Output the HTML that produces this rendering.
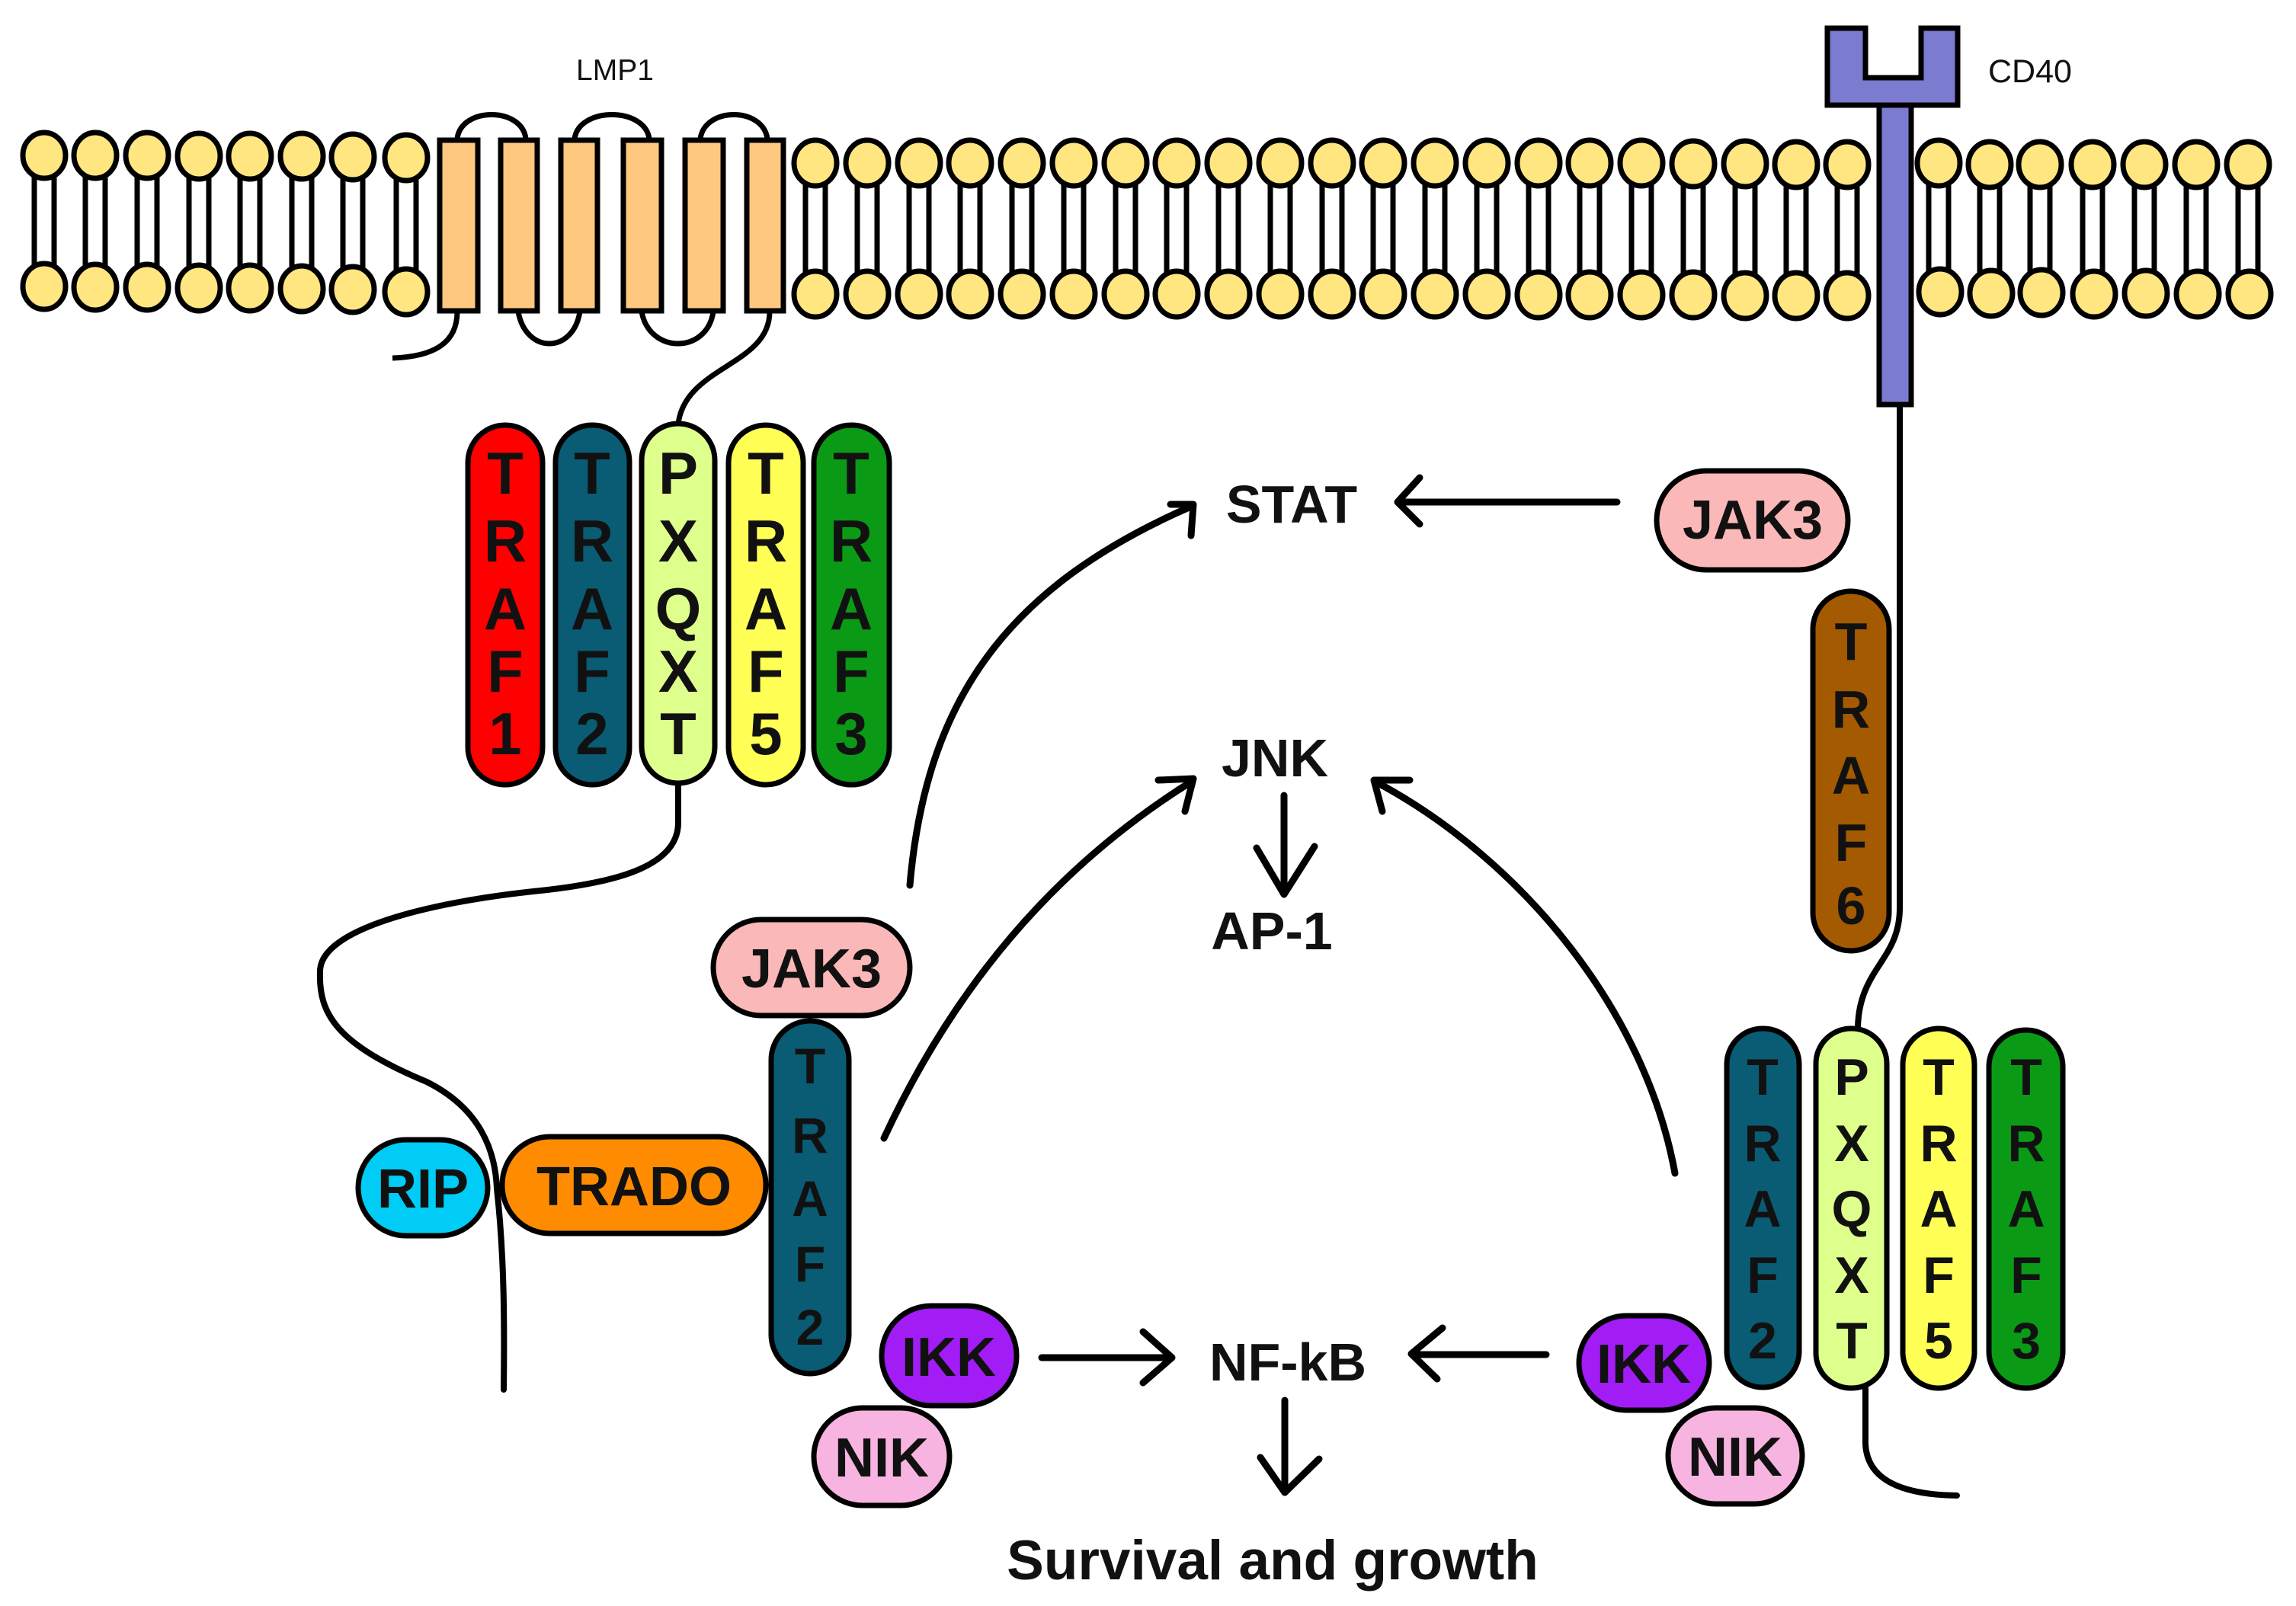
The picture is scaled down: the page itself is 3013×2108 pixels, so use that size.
<!DOCTYPE html>
<html><head><meta charset="utf-8"><style>
html,body{margin:0;padding:0;background:#fff;}
svg{display:block;}
text{font-family:"Liberation Sans",sans-serif;font-weight:bold;fill:#111;}
</style></head><body>
<svg width="3013" height="2108" viewBox="0 0 3013 2108" xmlns="http://www.w3.org/2000/svg">
<g stroke="#000" stroke-width="7">
<g fill="#fff">
<rect x="45" y="220" width="26" height="145"/><rect x="112" y="220" width="26" height="145"/><rect x="180" y="220" width="26" height="145"/><rect x="248" y="220" width="26" height="145"/><rect x="315" y="220" width="26" height="145"/><rect x="383" y="220" width="26" height="145"/><rect x="450" y="220" width="26" height="145"/><rect x="520" y="220" width="26" height="145"/>
<rect x="1057" y="230" width="26" height="145"/><rect x="1125" y="230" width="26" height="145"/><rect x="1193" y="230" width="26" height="145"/><rect x="1260" y="230" width="26" height="145"/><rect x="1328" y="230" width="26" height="145"/><rect x="1396" y="230" width="26" height="145"/><rect x="1464" y="230" width="26" height="145"/><rect x="1531" y="230" width="26" height="145"/><rect x="1599" y="230" width="26" height="145"/><rect x="1667" y="230" width="26" height="145"/><rect x="1735" y="230" width="26" height="145"/><rect x="1802" y="230" width="26" height="145"/><rect x="1870" y="230" width="26" height="145"/><rect x="1938" y="230" width="26" height="145"/><rect x="2006" y="230" width="26" height="145"/><rect x="2073" y="230" width="26" height="145"/><rect x="2141" y="230" width="26" height="145"/><rect x="2209" y="230" width="26" height="145"/><rect x="2277" y="230" width="26" height="145"/><rect x="2344" y="230" width="26" height="145"/><rect x="2411" y="230" width="26" height="145"/>
<rect x="2531" y="230" width="26" height="145"/><rect x="2598" y="230" width="26" height="145"/><rect x="2664" y="230" width="26" height="145"/><rect x="2733" y="230" width="26" height="145"/><rect x="2801" y="230" width="26" height="145"/><rect x="2869" y="230" width="26" height="145"/><rect x="2937" y="230" width="26" height="145"/>
</g>
<g fill="#ffe680">
<ellipse cx="58" cy="204" rx="28" ry="30"/><ellipse cx="125" cy="204" rx="28" ry="30"/><ellipse cx="193" cy="204" rx="28" ry="30"/><ellipse cx="261" cy="205" rx="28" ry="30"/><ellipse cx="328" cy="205" rx="28" ry="30"/><ellipse cx="396" cy="205" rx="28" ry="30"/><ellipse cx="463" cy="206" rx="28" ry="30"/><ellipse cx="533" cy="207" rx="28" ry="30"/>
<ellipse cx="58" cy="376" rx="28" ry="30"/><ellipse cx="125" cy="377" rx="28" ry="30"/><ellipse cx="193" cy="377" rx="28" ry="30"/><ellipse cx="261" cy="378" rx="28" ry="30"/><ellipse cx="328" cy="378" rx="28" ry="30"/><ellipse cx="396" cy="379" rx="28" ry="30"/><ellipse cx="463" cy="380" rx="28" ry="30"/><ellipse cx="533" cy="383" rx="28" ry="30"/>
<ellipse cx="1070" cy="214" rx="28" ry="30"/><ellipse cx="1138" cy="214" rx="28" ry="30"/><ellipse cx="1206" cy="214" rx="28" ry="30"/><ellipse cx="1273" cy="214" rx="28" ry="30"/><ellipse cx="1341" cy="214" rx="28" ry="30"/><ellipse cx="1409" cy="214" rx="28" ry="30"/><ellipse cx="1477" cy="214" rx="28" ry="30"/><ellipse cx="1544" cy="214" rx="28" ry="30"/><ellipse cx="1612" cy="214" rx="28" ry="30"/><ellipse cx="1680" cy="214" rx="28" ry="30"/><ellipse cx="1748" cy="214" rx="28" ry="30"/><ellipse cx="1815" cy="214" rx="28" ry="30"/><ellipse cx="1883" cy="214" rx="28" ry="30"/><ellipse cx="1951" cy="214" rx="28" ry="30"/><ellipse cx="2019" cy="214" rx="28" ry="30"/><ellipse cx="2086" cy="214" rx="28" ry="30"/><ellipse cx="2154" cy="214" rx="28" ry="30"/><ellipse cx="2222" cy="215" rx="28" ry="30"/><ellipse cx="2290" cy="215" rx="28" ry="30"/><ellipse cx="2357" cy="216" rx="28" ry="30"/><ellipse cx="2424" cy="216" rx="28" ry="30"/>
<ellipse cx="2544" cy="214" rx="28" ry="30"/><ellipse cx="2611" cy="216" rx="28" ry="30"/><ellipse cx="2677" cy="216" rx="28" ry="30"/><ellipse cx="2746" cy="216" rx="28" ry="30"/><ellipse cx="2814" cy="216" rx="28" ry="30"/><ellipse cx="2882" cy="216" rx="28" ry="30"/><ellipse cx="2950" cy="216" rx="28" ry="30"/>
<ellipse cx="1070" cy="386" rx="28" ry="30"/><ellipse cx="1138" cy="386" rx="28" ry="30"/><ellipse cx="1206" cy="386" rx="28" ry="30"/><ellipse cx="1273" cy="386" rx="28" ry="30"/><ellipse cx="1341" cy="386" rx="28" ry="30"/><ellipse cx="1409" cy="386" rx="28" ry="30"/><ellipse cx="1477" cy="386" rx="28" ry="30"/><ellipse cx="1544" cy="386" rx="28" ry="30"/><ellipse cx="1612" cy="386" rx="28" ry="30"/><ellipse cx="1680" cy="386" rx="28" ry="30"/><ellipse cx="1748" cy="386" rx="28" ry="30"/><ellipse cx="1815" cy="386" rx="28" ry="30"/><ellipse cx="1883" cy="386" rx="28" ry="30"/><ellipse cx="1951" cy="386" rx="28" ry="30"/><ellipse cx="2019" cy="387" rx="28" ry="30"/><ellipse cx="2086" cy="387" rx="28" ry="30"/><ellipse cx="2154" cy="387" rx="28" ry="30"/><ellipse cx="2222" cy="387" rx="28" ry="30"/><ellipse cx="2290" cy="388" rx="28" ry="30"/><ellipse cx="2357" cy="388" rx="28" ry="30"/><ellipse cx="2424" cy="388" rx="28" ry="30"/>
<ellipse cx="2546" cy="383" rx="28" ry="30"/><ellipse cx="2613" cy="385" rx="28" ry="30"/><ellipse cx="2679" cy="384" rx="28" ry="30"/><ellipse cx="2748" cy="386" rx="28" ry="30"/><ellipse cx="2816" cy="385" rx="28" ry="30"/><ellipse cx="2884" cy="386" rx="28" ry="30"/><ellipse cx="2952" cy="386" rx="28" ry="30"/>
</g>
</g>

<g fill="none" stroke="#000" stroke-width="7">
<path d="M600,182 C605,140 685,140 690,182"/>
<path d="M754,182 C760,140 846,140 852,182"/>
<path d="M919,182 C925,140 1001,140 1007,182"/>
<path d="M680,409 C690,465 752,465 761,409"/>
<path d="M842,409 C852,465 928,465 936,409"/>
<path d="M600,409 C600,450 570,468 515,470"/>
<path d="M1010,409 C1010,480 900,480 890,556"/>
</g>
<g fill="#ffc880" stroke="#000" stroke-width="7">
<rect x="577" y="184" width="50" height="224"/><rect x="657" y="184" width="48" height="224"/><rect x="736" y="184" width="48" height="224"/><rect x="818" y="184" width="50" height="224"/><rect x="899" y="184" width="50" height="224"/><rect x="980" y="184" width="48" height="224"/>
</g>
<text x="807" y="105" font-size="39" style="font-weight:normal" text-anchor="middle">LMP1</text>

<g fill="#7b7bd0" stroke="#000" stroke-width="7">
<rect x="2466" y="138" width="42" height="393"/>
<path d="M2398,37 H2448 V102 H2521 V37 H2569 V138 H2398 Z"/>
</g>
<text x="2609" y="108" font-size="43" style="font-weight:normal">CD40</text>

<g fill="none" stroke="#000" stroke-width="8" stroke-linecap="round">
<path d="M2493,532 V1190 C2494,1260 2440,1270 2438,1348"/>
<path d="M2448,1822 V1895 C2450,1945 2500,1962 2568,1963"/>
<path d="M890,1030 V1080 C890,1140 800,1160 700,1170 C560,1185 420,1220 420,1275 C418,1330 440,1370 560,1420 C630,1455 650,1510 652,1560 C662,1650 662,1740 661,1824"/>
</g>

<g stroke="#000" stroke-width="7">
<rect x="614" y="558" width="98" height="472" rx="49" fill="#ff0000"/>
<rect x="729" y="558" width="97" height="472" rx="48" fill="#0a5b74"/>
<rect x="842" y="556" width="96" height="472" rx="48" fill="#dfff8c"/>
<rect x="956" y="558" width="98" height="472" rx="49" fill="#ffff55"/>
<rect x="1068" y="558" width="99" height="472" rx="49" fill="#0a9a16"/>
</g>
<g font-size="78" text-anchor="middle">
<text x="663" y="648">T</text><text x="663" y="737">R</text><text x="663" y="826">A</text><text x="663" y="908">F</text><text x="663" y="990">1</text>
<text x="777" y="648">T</text><text x="777" y="737">R</text><text x="777" y="826">A</text><text x="777" y="908">F</text><text x="777" y="990">2</text>
<text x="890" y="648">P</text><text x="890" y="737">X</text><text x="890" y="826">Q</text><text x="890" y="908">X</text><text x="890" y="990">T</text>
<text x="1005" y="648">T</text><text x="1005" y="737">R</text><text x="1005" y="826">A</text><text x="1005" y="908">F</text><text x="1005" y="990">5</text>
<text x="1117" y="648">T</text><text x="1117" y="737">R</text><text x="1117" y="826">A</text><text x="1117" y="908">F</text><text x="1117" y="990">3</text>
</g>

<g stroke="#000" stroke-width="7">
<rect x="470" y="1496" width="170" height="126" rx="63" fill="#00ccf5"/>
<rect x="659" y="1492" width="346" height="127" rx="63" fill="#ff8c00"/>
<rect x="1012" y="1340" width="102" height="463" rx="51" fill="#0a5b74"/>
<rect x="936" y="1207" width="258" height="126" rx="63" fill="#fbb8b8"/>
<rect x="1068" y="1848" width="178" height="128" rx="64" fill="#f8b4e0"/>
<rect x="1157" y="1714" width="177" height="131" rx="65" fill="#a11cf5"/>
</g>
<g font-size="72" text-anchor="middle">
<text x="555" y="1585">RIP</text>
<text x="832" y="1582">TRADO</text>
<text x="1065" y="1296">JAK3</text>
<text x="1157" y="1938">NIK</text>
<text x="1245" y="1806">IKK</text>
</g>
<g font-size="66" text-anchor="middle">
<text x="1063" y="1422">T</text><text x="1063" y="1513">R</text><text x="1063" y="1596">A</text><text x="1063" y="1682">F</text><text x="1063" y="1765">2</text>
</g>

<g stroke="#000" stroke-width="7">
<rect x="2174" y="618" width="251" height="130" rx="65" fill="#fbb8b8"/>
<rect x="2379" y="776" width="100" height="472" rx="50" fill="#a35a00"/>
<rect x="2266" y="1350" width="95" height="471" rx="47" fill="#0a5b74"/>
<rect x="2383" y="1350" width="93" height="472" rx="46" fill="#dfff8c"/>
<rect x="2497" y="1350" width="94" height="472" rx="47" fill="#ffff55"/>
<rect x="2610" y="1352" width="97" height="470" rx="48" fill="#0a9a16"/>
<rect x="2189" y="1848" width="176" height="126" rx="63" fill="#f8b4e0"/>
<rect x="2072" y="1727" width="171" height="124" rx="62" fill="#a11cf5"/>
</g>
<g font-size="72" text-anchor="middle">
<text x="2300" y="707">JAK3</text>
<text x="2277" y="1937">NIK</text>
<text x="2157" y="1815">IKK</text>
</g>
<g font-size="70" text-anchor="middle">
<text x="2429" y="866">T</text><text x="2429" y="955">R</text><text x="2429" y="1042">A</text><text x="2429" y="1130">F</text><text x="2429" y="1213">6</text>
</g>
<g font-size="68" text-anchor="middle">
<text x="2313" y="1437">T</text><text x="2313" y="1524">R</text><text x="2313" y="1610">A</text><text x="2313" y="1697">F</text><text x="2313" y="1783">2</text>
<text x="2430" y="1437">P</text><text x="2430" y="1524">X</text><text x="2430" y="1610">Q</text><text x="2430" y="1697">X</text><text x="2430" y="1783">T</text>
<text x="2544" y="1437">T</text><text x="2544" y="1524">R</text><text x="2544" y="1610">A</text><text x="2544" y="1697">F</text><text x="2544" y="1783">5</text>
<text x="2659" y="1437">T</text><text x="2659" y="1524">R</text><text x="2659" y="1610">A</text><text x="2659" y="1697">F</text><text x="2659" y="1783">3</text>
</g>

<g font-size="70" text-anchor="middle">
<text x="1695" y="686">STAT</text>
<text x="1673" y="1019">JNK</text>
<text x="1669" y="1246">AP-1</text>
<text x="1690" y="1812">NF-kB</text>
</g>
<text x="1670" y="2073" font-size="73" text-anchor="middle">Survival and growth</text>

<g fill="none" stroke="#000" stroke-width="9" stroke-linecap="round" stroke-linejoin="round">
<path d="M2122,659 H1836"/><path d="M1863,627 L1834,659 L1863,688"/>
<path d="M1194,1162 C1215,920 1320,770 1565,664"/><path d="M1536,662 L1566,662 L1563,703"/>
<path d="M1160,1494 C1250,1300 1380,1140 1565,1025"/><path d="M1520,1024 L1566,1022 L1555,1065"/>
<path d="M2198,1540 C2160,1330 2000,1130 1805,1026"/><path d="M1850,1024 L1803,1024 L1814,1065"/>
<path d="M1685,1044 V1172"/><path d="M1649,1113 L1685,1174 L1725,1111"/>
<path d="M1367,1782 H1534"/><path d="M1500,1748 L1538,1782 L1500,1815"/>
<path d="M2029,1778 H1855"/><path d="M1893,1743 L1852,1777 L1886,1810"/>
<path d="M1686,1838 V1957"/><path d="M1654,1913 L1686,1959 L1731,1915"/>
</g>
</svg>
</body></html>
